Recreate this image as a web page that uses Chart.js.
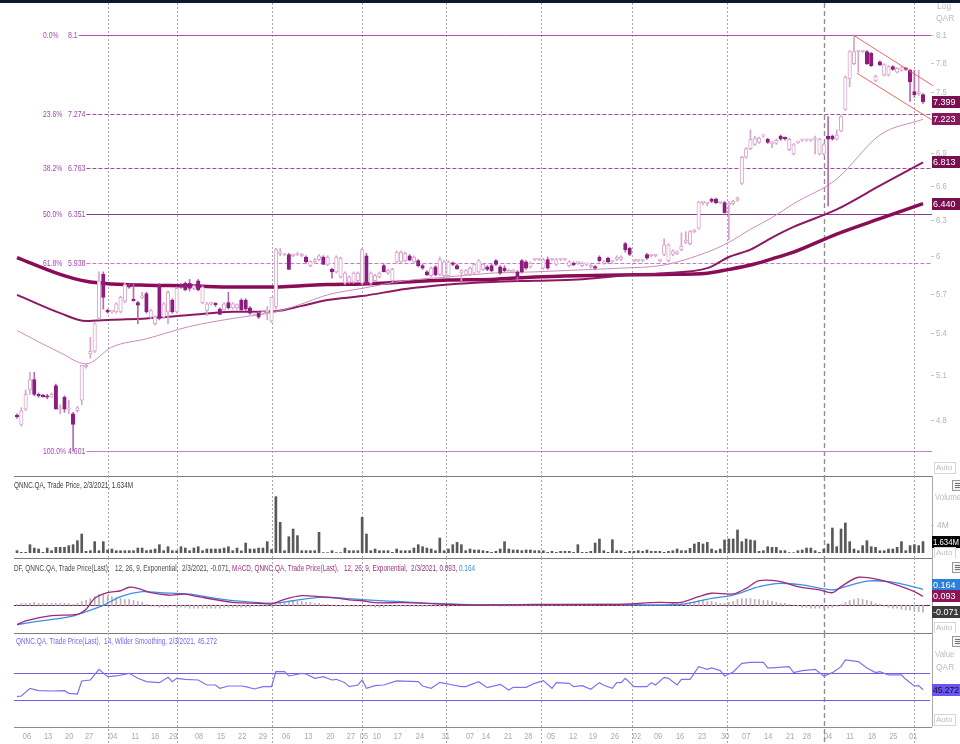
<!DOCTYPE html>
<html><head><meta charset="utf-8">
<script src="https://cdn.jsdelivr.net/npm/chart.js@4.4.1/dist/chart.umd.min.js"></script>
<style>
body{margin:0;background:#fff;width:960px;height:744px;overflow:hidden;position:relative}
canvas{position:absolute;left:0}
.ln{position:absolute;background:#7c7c7c}
</style></head><body>
<div class="ln" style="left:0;top:0;width:960px;height:3px;background:#0b1733"></div>
<div class="ln" style="left:14px;top:476px;width:918px;height:1px"></div>
<div class="ln" style="left:14px;top:558px;width:918px;height:1px"></div>
<div class="ln" style="left:14px;top:633px;width:918px;height:1px"></div>
<div class="ln" style="left:14px;top:727px;width:918px;height:1px;background:#8a8a8a"></div>
<div class="ln" style="left:932px;top:476px;width:1px;height:251px;background:#a8a8a8"></div>
<canvas id="cPrice"></canvas>
<canvas id="cVol"></canvas>
<canvas id="cMacd"></canvas>
<canvas id="cRsi"></canvas>
<script>
// ---------------- DATA ----------------
const tickLabels = ['06','13','20','27','04','11','18','29','08','15','22','29','06','13','20','27','05','10','17','24','31','07','14','21','28','05','12','19','26','02','09','16','23','30','07','14','21','28','04','11','18','25','01'];
const tickIdx = [2.3,7.2,12.1,16.7,22.3,27.4,32,36.2,42.2,47.3,52.2,57,62.4,67.5,72.6,77.4,80.4,83.4,88.3,93.4,99.4,105,108.7,113.8,118.5,123.8,128.9,133.5,138.6,143.7,148.6,153.7,158.8,164.1,169,174.1,179.2,183.1,188,193.1,198.2,203.1,207.7];
const monthLineIdx = [21,37,59,80,99.5,121.5,142.5,164.5,187,208];
const yearStartIdx = 187;

const priceOpen = [4.83,4.77,4.87,5.00,5.07,4.97,4.96,4.96,4.95,5.03,
4.87,4.95,4.87,4.84,4.86,4.93,5.16,5.25,5.27,5.51,
5.85,5.57,5.56,5.56,5.56,5.64,5.76,5.65,5.63,5.67,
5.70,5.52,5.47,5.77,5.52,5.56,5.65,5.56,5.77,5.78,
5.78,5.74,5.80,5.63,5.57,5.62,5.62,5.58,5.575,5.63,
5.59,5.59,5.65,5.65,5.59,5.54,5.55,5.55,5.56,5.49,
5.60,6.02,6.01,6.01,6.00,6.01,6.00,5.99,5.92,5.95,
5.97,5.99,5.93,5.89,5.87,5.83,5.78,5.79,5.79,5.80,
5.78,6.00,5.78,5.80,5.83,5.92,5.86,5.80,5.95,5.95,
5.96,6.00,5.95,5.96,5.92,5.87,5.84,5.91,5.85,5.84,
5.84,5.94,5.92,5.86,5.85,5.85,5.86,5.87,5.89,5.91,
5.92,5.96,5.91,5.90,5.87,5.87,5.87,5.96,5.95,5.91,
5.97,5.97,5.90,5.97,5.97,5.93,5.97,5.97,5.92,5.94,
5.94,5.92,5.93,5.91,5.91,5.99,5.94,5.98,5.95,5.97,
5.97,6.10,6.06,5.96,5.96,5.96,6.01,6.00,6.00,5.96,
6.01,5.96,6.01,6.02,6.05,6.11,6.10,6.20,6.23,6.45,
6.44,6.48,6.48,6.45,6.45,6.43,6.44,6.47,6.62,6.86,
6.94,6.98,7.00,7.06,7.03,6.99,6.99,7.06,7.04,6.93,
6.89,7.00,7.02,7.02,7.02,7.03,6.89,6.89,7.06,7.06,
7.03,7.11,7.32,7.63,7.79,7.92,7.92,7.92,7.90,7.61,
7.81,7.67,7.67,7.76,7.70,7.72,7.74,7.72,7.50,7.48,
7.47];
const priceHigh = [4.84,4.88,5.00,5.12,5.12,4.98,4.97,4.97,4.98,5.04,
4.90,4.96,4.93,4.85,4.89,5.17,5.18,5.37,5.48,5.87,
5.87,5.58,5.57,5.63,5.68,5.78,5.77,5.77,5.64,5.71,
5.71,5.58,5.53,5.78,5.63,5.72,5.66,5.75,5.78,5.79,
5.81,5.77,5.81,5.76,5.63,5.63,5.63,5.59,5.63,5.71,
5.63,5.62,5.66,5.66,5.60,5.55,5.56,5.56,5.60,5.67,
6.06,6.06,6.02,6.02,6.01,6.03,6.02,6.00,5.96,5.98,
6.01,6.00,6.00,5.90,6.00,5.99,5.87,5.84,5.87,5.87,
6.06,6.02,5.87,5.85,5.87,5.93,5.89,5.90,6.04,6.04,
6.03,6.01,6.00,5.97,5.93,5.88,5.91,5.92,5.99,5.96,
5.96,5.95,5.93,5.89,5.89,5.91,5.94,5.97,5.94,5.92,
5.93,5.97,5.92,5.92,5.89,5.89,5.88,5.97,5.96,5.95,
5.98,5.98,5.98,5.99,5.98,5.98,5.98,5.98,5.96,5.95,
5.95,5.95,5.94,5.93,5.92,6.00,5.96,5.99,5.96,6.00,
6.00,6.11,6.07,5.97,5.97,5.97,6.02,6.01,6.01,5.97,
6.14,6.10,6.05,6.04,6.19,6.20,6.21,6.22,6.46,6.46,
6.45,6.49,6.49,6.46,6.46,6.46,6.47,6.50,6.87,6.95,
7.12,7.06,7.05,7.07,7.04,7.01,7.03,7.07,7.05,7.04,
6.99,7.01,7.03,7.03,7.03,7.06,7.04,6.99,7.25,7.07,
7.12,7.26,7.66,7.93,8.10,7.93,7.93,7.93,7.91,7.67,
7.82,7.79,7.77,7.77,7.75,7.76,7.75,7.73,7.72,7.72,
7.48];
const priceLow = [4.81,4.76,4.86,4.97,4.96,4.95,4.95,4.94,4.95,4.87,
4.84,4.85,4.84,4.60,4.85,4.90,5.15,5.22,5.26,5.50,
5.58,5.55,5.55,5.55,5.55,5.63,5.74,5.64,5.47,5.66,
5.55,5.51,5.46,5.50,5.51,5.47,5.55,5.55,5.74,5.72,
5.72,5.73,5.72,5.62,5.53,5.61,5.60,5.54,5.57,5.58,
5.58,5.58,5.57,5.57,5.54,5.53,5.51,5.54,5.50,5.48,
5.58,6.00,6.00,5.89,5.99,6.00,5.99,5.94,5.91,5.94,
5.96,5.93,5.92,5.82,5.86,5.82,5.77,5.78,5.78,5.79,
5.77,5.78,5.77,5.79,5.82,5.87,5.85,5.79,5.94,5.94,
5.95,5.96,5.94,5.91,5.89,5.84,5.83,5.84,5.84,5.83,
5.83,5.92,5.89,5.80,5.84,5.84,5.85,5.86,5.88,5.88,
5.87,5.92,5.85,5.87,5.86,5.86,5.80,5.86,5.89,5.90,
5.96,5.96,5.89,5.89,5.96,5.92,5.96,5.96,5.91,5.92,
5.93,5.91,5.92,5.90,5.89,5.95,5.93,5.94,5.94,5.96,
5.96,6.03,6.00,5.95,5.95,5.95,5.97,5.99,5.99,5.95,
6.00,5.95,6.00,6.01,6.04,6.10,6.09,6.19,6.22,6.43,
6.42,6.45,6.44,6.44,6.36,6.13,6.43,6.46,6.61,6.85,
6.93,6.97,6.99,7.05,6.99,6.95,6.98,7.02,7.02,6.92,
6.88,6.99,7.01,7.01,7.01,6.89,6.88,6.88,6.42,7.02,
7.02,7.10,7.31,7.55,7.78,7.70,7.91,7.78,7.76,7.60,
7.77,7.66,7.66,7.72,7.69,7.71,7.72,7.40,7.44,7.46,
7.38];
const priceClose = [4.82,4.86,4.97,5.07,4.97,4.96,4.955,4.95,4.97,4.87,
4.88,4.87,4.88,4.77,4.88,5.17,5.165,5.27,5.47,5.80,
5.67,5.56,5.565,5.62,5.67,5.77,5.75,5.645,5.61,5.675,
5.56,5.57,5.52,5.51,5.62,5.71,5.56,5.74,5.75,5.73,
5.74,5.76,5.73,5.75,5.62,5.625,5.615,5.54,5.62,5.59,
5.62,5.615,5.575,5.58,5.55,5.545,5.52,5.555,5.565,5.67,
6.05,6.025,6.015,5.89,6.005,6.015,6.005,5.95,5.955,5.97,
6.00,5.93,5.99,5.87,5.99,5.98,5.86,5.83,5.86,5.86,
6.05,5.78,5.86,5.84,5.86,5.87,5.88,5.89,6.03,6.03,
6.02,5.965,5.99,5.92,5.90,5.845,5.90,5.845,5.97,5.95,
5.95,5.93,5.895,5.88,5.88,5.90,5.93,5.96,5.93,5.89,
5.88,5.93,5.86,5.88,5.88,5.885,5.83,5.87,5.90,5.94,
5.975,5.975,5.97,5.90,5.975,5.97,5.975,5.975,5.95,5.925,
5.945,5.94,5.935,5.925,5.90,5.96,5.95,5.95,5.955,5.99,
5.99,6.05,6.01,5.965,5.965,5.965,5.98,6.005,6.005,5.965,
6.09,6.09,6.04,6.03,6.08,6.13,6.20,6.21,6.455,6.455,
6.445,6.46,6.45,6.455,6.36,6.44,6.46,6.49,6.86,6.94,
7.03,7.04,7.04,7.065,7.00,6.995,7.02,7.03,7.035,7.03,
6.98,7.005,7.025,7.025,7.025,7.035,7.03,6.98,7.03,7.03,
7.07,7.25,7.65,7.92,7.92,7.925,7.925,7.79,7.77,7.66,
7.78,7.78,7.76,7.73,7.74,7.75,7.73,7.60,7.47,7.50,
7.399];

const maIdx  = [0,10,16,22,30,40,50,60,66,72,80,90,100,110,120,130,140,150,160,165,170,175,180,190,200,210];
const ma50   = [5.42,5.26,5.18,5.30,5.36,5.45,5.51,5.56,5.62,5.69,5.74,5.80,5.83,5.86,5.87,5.885,5.90,5.925,6.03,6.11,6.22,6.32,6.44,6.66,7.07,7.223];
const ma100  = [5.69,5.55,5.49,5.50,5.51,5.535,5.56,5.565,5.605,5.65,5.68,5.735,5.77,5.79,5.80,5.81,5.84,5.86,5.90,5.99,6.05,6.15,6.24,6.39,6.60,6.813];
const ma200  = [5.985,5.85,5.795,5.775,5.765,5.76,5.75,5.75,5.76,5.77,5.775,5.79,5.805,5.81,5.83,5.84,5.845,5.85,5.86,5.89,5.925,5.975,6.03,6.18,6.31,6.44];

const fibLevels = [8.1,7.274,6.763,6.351,5.938,4.601];
const fibPct = ['0.0%','23.6%','38.2%','50.0%','61.8%','100.0%'];
const channelUpper = [[193.8,8.10],[212.3,7.56]];
const channelLower = [[194.7,7.69],[212.3,7.21]];
const priceTicks = [8.1,7.8,7.5,7.2,6.9,6.6,6.3,6,5.7,5.4,5.1,4.8];

const volume = [0.33,0.1,0.1,1.19,0.71,0.57,0.1,0.71,0.33,0.81,
0.81,0.81,1.05,1.19,1.76,2.71,0.24,0.33,1.62,0.33,
1.62,0.43,0.57,0.33,0.33,0.33,0.33,0.33,0.71,0.71,
0.33,0.43,0.57,1.19,0.33,0.9,0.33,0.33,0.9,0.71,
0.33,0.71,0.9,0.33,0.57,0.57,0.57,0.57,0.71,0.9,
0.33,0.71,0.3,1.43,0.57,0.57,0.71,0.71,1.62,0.5,
8.05,4.38,0.33,2.33,3.43,2.48,0.33,0.33,0.33,0.33,
2.95,0.05,0.05,0.33,0.05,0.05,0.71,0.33,0.33,0.33,
5.1,2.71,0.33,0.57,0.33,0.33,0.33,0.1,0.57,0.33,
0.33,0.33,0.71,1.19,0.9,0.71,0.57,0.33,2.14,0.33,
0.57,1.19,1.52,1.19,0.33,0.57,0.43,0.43,0.33,0.24,
0.1,0.24,0.57,1.62,0.57,0.43,0.43,0.33,0.43,0.43,
0.33,0.33,0.33,0.1,0.24,0.1,0.24,0.24,0.24,0.1,
1.19,0.1,0.1,0.24,1.43,2.0,0.33,0.1,1.9,0.33,
0.33,0.1,0.24,0.24,0.33,0.24,0.43,0.24,0.24,0.24,
0.1,0.24,0.33,0.57,0.33,0.33,0.67,1.29,1.52,1.29,
1.52,0.57,0.33,0.57,1.86,2.0,2.0,3.29,1.62,2.0,
1.86,1.76,0.24,0.33,0.9,0.81,0.81,0.33,0.33,0.05,
0.05,0.33,0.43,0.71,0.71,0.33,0.1,0.57,1.29,3.57,
0.9,3.43,4.29,1.62,0.57,0.33,1.05,1.76,0.9,0.81,
0.33,0.33,0.57,0.57,0.81,1.62,0.33,1.05,1.19,1.05,
1.634];
const volumeTicks = [4];

const macdX = [0,2,8,14,16,18,21,24,26,28,31,35,39,42,50,56,59,62,66,70,73,77,80,83,89,95,100,107,120,138,149,154,158,161,166,169,172,177,181,186,189,191,195,200,205,208,210];
const macdY = [-0.20,-0.16,-0.107,-0.093,-0.041,0.072,0.13,0.15,0.186,0.175,0.13,0.106,0.116,0.089,0.031,0.021,0.013,0.062,0.099,0.089,0.082,0.055,0.047,0.027,0.027,0.02,0.01,0.003,0.01,0.01,0.03,0.03,0.089,0.124,0.117,0.175,0.254,0.244,0.192,0.158,0.13,0.192,0.289,0.261,0.192,0.14,0.093];
const signalX = [0,4,12,16,20,24,29,33,40,46,53,59,64,70,76,81,89,96,107,138,154,161,166,172,177,182,189,192,197,202,206,210];
const signalY = [-0.20,-0.17,-0.12,-0.066,0.0,0.09,0.14,0.13,0.116,0.072,0.037,0.021,0.047,0.082,0.072,0.055,0.037,0.02,0.005,0.01,0.01,0.072,0.106,0.192,0.227,0.21,0.158,0.192,0.25,0.244,0.21,0.164];
const hist = [0.01,0.02,0.02,0.02,0.03,0.02,0.02,0.02,0.02,0.02,
0.02,0.02,0.02,0.01,0.02,0.04,0.05,0.07,0.09,0.11,
0.11,0.10,0.09,0.08,0.07,0.06,0.06,0.05,0.04,0.03,
0.01,-0.01,-0.01,-0.02,-0.02,-0.02,-0.01,-0.02,-0.02,-0.02,
-0.03,-0.03,-0.03,-0.03,-0.03,-0.03,-0.03,-0.03,-0.02,-0.02,
-0.02,-0.02,-0.02,-0.02,-0.02,-0.01,-0.01,-0.01,-0.01,-0.01,
0.01,0.02,0.03,0.03,0.04,0.04,0.04,0.03,0.03,0.02,
0.02,0.01,0.01,0,-0.01,-0.01,-0.01,-0.01,-0.01,-0.01,
0,-0.01,-0.01,-0.02,-0.02,-0.02,-0.01,-0.01,-0.01,-0.01,
-0.01,-0.01,-0.01,-0.01,-0.01,-0.01,-0.01,-0.01,-0.01,-0.01,
-0.01,0,0,0,0,0,0,0,0,0,
-0.005,-0.005,-0.01,-0.01,-0.01,-0.01,-0.01,-0.01,0,0,
0,0,0,0,0,0,0,0,0,0,
0,0,0,0,0,0,0,0,0,0.005,
0,0,0,0,0,0,0,0,0,0.01,
0.01,0.01,0.02,0.02,0.02,0.02,0.03,0.04,0.05,0.05,
0.04,0.04,0.03,0.02,0.02,0.03,0.04,0.06,0.07,0.07,
0.07,0.06,0.06,0.05,0.05,0.04,0.03,0.02,0.02,0.01,
0,-0.01,-0.02,-0.02,-0.03,-0.03,-0.03,-0.03,-0.03,-0.02,
-0.01,0.01,0.03,0.05,0.06,0.07,0.06,0.05,0.04,0.02,
0.01,-0.01,-0.02,-0.03,-0.03,-0.04,-0.05,-0.05,-0.06,-0.065,
-0.071];

const rsiX = [0,1,3,5,8,11,12,14,15,17,19,21,23,26,28,30,33,35,36,37,39,42,44,46,47,49,52,53,55,57,59,60,62,63,66,67,69,71,73,74,76,77,79,80,81,83,85,88,93,94,96,98,101,103,104,107,109,112,114,115,118,120,122,124,125,128,129,131,133,135,136,138,139,140,141,143,146,147,148,150,151,153,154,156,158,160,161,163,164,165,166,168,170,173,174,175,179,180,182,185,187,189,191,192,195,197,199,200,202,205,206,208,209,210];
const rsiY = [35,36,47.5,44,43.5,44,40,39,58.5,60,76,65,66,70,62.5,57.5,56,64,57.5,62.5,61,60,52.5,52.5,47.5,51,51,50,46.5,50,50,72.5,72.5,66,70,69,62.5,65,60,61,56,50,52.5,60,47.5,51.5,52.5,58.5,57.5,51,47.5,56.5,52.5,50,50,57.5,48.5,53.5,45,49,49,55,59,47.5,56,55,50,51.5,46,56,52,47.5,56,56,62.5,50,50,56,52.5,64,62.5,52.5,61,61,80,76,78,74,66,69,72,85,86.5,86.5,78,78,80,71,74,76,66,71,80,90,87.5,78,71,72.5,67.5,67.5,61,51,51.5,45.272];
const rsiLevels = [70,30];

// ---------------- STYLE / HELPERS ----------------
const FONT = '"Liberation Sans", Arial, sans-serif';
Chart.defaults.font.family = FONT;
const X_MIN = -0.7, X_MAX = 211.62;
const fibColors = ['#b44cbc','#a8489e','#a04a98','#8c3592','#c27cc6','#c47ad0'];
const fibDashed = [false,true,true,false,true,false];
const AXIS_TXT = '#b4b4b4';

function txt(ctx, s, x, y, o) {
  o = o || {};
  const size = o.size || 8, sx = o.sx || 1;
  ctx.save();
  ctx.font = (o.bold ? 'bold ' : '') + size + 'px ' + FONT;
  ctx.fillStyle = o.color || '#000';
  ctx.textBaseline = 'middle';
  ctx.textAlign = 'left';
  const w = ctx.measureText(s).width * sx;
  const x0 = o.align === 'center' ? x - w / 2 : (o.align === 'right' ? x - w : x);
  ctx.translate(x0, y); ctx.scale(sx, 1); ctx.fillText(s, 0, 0);
  ctx.restore();
  return w;
}
function fitParts(ctx, parts, x, y, width, size) {
  ctx.save(); ctx.font = size + 'px ' + FONT;
  const total = parts.reduce((a, p) => a + ctx.measureText(p[0]).width, 0);
  ctx.restore();
  const sx = width / total;
  let cx = x;
  parts.forEach(p => { cx += txt(ctx, p[0], cx, y, {size: size, color: p[1], sx: sx}); });
}
function hline(ctx, x1, x2, y, color, w, dash) {
  ctx.save(); ctx.strokeStyle = color; ctx.lineWidth = w || 1; ctx.setLineDash(dash || []);
  ctx.beginPath(); ctx.moveTo(x1, y); ctx.lineTo(x2, y); ctx.stroke(); ctx.restore();
}
function monthLines(chart, y1, y2) {
  const ctx = chart.ctx, xs = chart.scales.x;
  monthLineIdx.forEach(m => {
    const px = Math.round(xs.getPixelForValue(m)) + 0.5;
    const yr = m === yearStartIdx;
    ctx.save(); ctx.strokeStyle = yr ? '#8f8f8f' : '#a6a6a6'; ctx.lineWidth = yr ? 1.4 : 1;
    ctx.setLineDash(yr ? [5, 3] : [2, 2]);
    ctx.beginPath(); ctx.moveTo(px, y1); ctx.lineTo(px, y2); ctx.stroke(); ctx.restore();
  });
}
function tag(ctx, s, cy, bg, fg) {
  cy = Math.round(cy);
  ctx.save(); ctx.fillStyle = bg; ctx.fillRect(932, cy - 6, 28, 12);
  ctx.font = '9px ' + FONT; const w = ctx.measureText(s).width; ctx.restore();
  txt(ctx, s, 933, cy + 0.5, {size: 9, color: fg, sx: Math.min(1, 26 / w)});
}
function autoBox(ctx, cy) {
  ctx.save(); ctx.strokeStyle = '#d6d6d6'; ctx.strokeRect(934.5, Math.round(cy) - 5.5, 21, 11); ctx.restore();
  txt(ctx, 'Auto', 936, cy, {size: 8, color: '#bdbdbd'});
}
function iconBox(ctx, y) {
  ctx.save(); ctx.fillStyle = '#f2f2f2'; ctx.strokeStyle = '#9a9a9a';
  ctx.fillRect(952.5, y + 0.5, 9, 10); ctx.strokeRect(952.5, y + 0.5, 9, 10);
  ctx.fillStyle = '#707070'; ctx.fillRect(955, y + 3, 5, 1); ctx.fillRect(955, y + 5, 5, 1); ctx.fillRect(955, y + 7, 5, 1);
  ctx.restore();
}
function spreadTags(list, gap) {
  list.sort((a, b) => a.y - b.y);
  for (let i = list.length - 2; i >= 0; i--) if (list[i].y > list[i + 1].y - gap) list[i].y = list[i + 1].y - gap;
  return list;
}
function pts(xs, ys) { return xs.map((x, k) => ({x: x, y: ys[k]})); }

function makeChart(id, top, height, padTop, padBottom, datasets, yOpts, plugin) {
  const cv = document.getElementById(id);
  cv.width = 960; cv.height = height; cv.style.top = top + 'px';
  return new Chart(cv, {
    type: 'bar',
    data: {datasets: datasets},
    options: {
      responsive: false, animation: false, events: [],
      layout: {padding: {left: 14, right: 30, top: padTop, bottom: padBottom}},
      plugins: {legend: {display: false}, tooltip: {enabled: false}},
      scales: {
        x: {type: 'linear', min: X_MIN, max: X_MAX, display: false, bounds: 'data', offset: false, grid: {offset: false}},
        y: Object.assign({display: false, bounds: 'data'}, yOpts)
      }
    },
    plugins: [plugin]
  });
}

const N = priceClose.length;
const idx = priceClose.map((_, i) => i);
const isUp = i => priceClose[i] >= priceOpen[i];
const last = N - 1;

// ---------------- PRICE PANEL ----------------
const pricePlugin = {
  id: 'pricePanel',
  beforeDatasetsDraw(chart) {
    const ctx = chart.ctx, y = chart.scales.y;
    monthLines(chart, chart.chartArea.top, chart.height);
    fibLevels.forEach((lv, i) => {
      const py = Math.round(y.getPixelForValue(lv)) + 0.5;
      txt(ctx, fibPct[i], 43, py, {size: 8.5, color: '#a447b2', sx: 0.8});
      const w = txt(ctx, String(lv), 68, py, {size: 8.5, color: '#a447b2', sx: 0.82});
      hline(ctx, 68 + w + 1, 932, py, fibColors[i], 1, fibDashed[i] ? [4, 2] : []);
    });
  },
  afterDraw(chart) {
    const ctx = chart.ctx, y = chart.scales.y;
    txt(ctx, 'Log', 937, 7, {size: 8.5, color: '#bcbcbc'});
    txt(ctx, 'QAR', 936, 19, {size: 8.5, color: '#bcbcbc'});
    priceTicks.forEach(v => {
      const py = Math.round(y.getPixelForValue(v)) + 0.5;
      hline(ctx, 931, 934, py, '#c4c4c4');
      txt(ctx, String(v), 936, py, {size: 8.5, color: AXIS_TXT, sx: 0.9});
    });
    tag(ctx, priceClose[last].toFixed(3), y.getPixelForValue(priceClose[last]), '#7a0f50', '#fff');
    tag(ctx, ma50[ma50.length - 1].toFixed(3), y.getPixelForValue(ma50[ma50.length - 1]), '#86195c', '#fff');
    tag(ctx, ma100[ma100.length - 1].toFixed(3), y.getPixelForValue(ma100[ma100.length - 1]), '#7a0f50', '#fff');
    tag(ctx, ma200[ma200.length - 1].toFixed(3), y.getPixelForValue(ma200[ma200.length - 1]), '#7a0f50', '#fff');
    autoBox(ctx, 468);
  }
};
makeChart('cPrice', 0, 476, 3, 4, [
  {type: 'line', data: pts(maIdx, ma200), borderColor: '#8a0c56', borderWidth: 3.5, pointRadius: 0, cubicInterpolationMode: 'monotone', order: 10},
  {type: 'line', data: pts(maIdx, ma100), borderColor: '#8e1862', borderWidth: 2, pointRadius: 0, cubicInterpolationMode: 'monotone', order: 9},
  {type: 'line', data: pts(maIdx, ma50), borderColor: '#c98bbd', borderWidth: 1, pointRadius: 0, cubicInterpolationMode: 'monotone', order: 8},
  {type: 'bar', data: idx.map(i => ({x: i, y: [priceLow[i], priceHigh[i]]})),
   backgroundColor: c => isUp(c.dataIndex) ? '#d8a5ce' : '#b66aa8', barThickness: 1, grouped: false, order: 3},
  {type: 'bar', data: idx.map(i => ({x: i, y: [Math.min(priceOpen[i], priceClose[i]), Math.max(priceOpen[i], priceClose[i])]})),
   backgroundColor: c => isUp(c.dataIndex) ? '#ffffff' : '#8c1c7e',
   borderColor: c => isUp(c.dataIndex) ? '#d8a5ce' : '#8c1c7e',
   borderWidth: 1, borderSkipped: false, barThickness: 3.5, minBarLength: 1.5, grouped: false, order: 2},
  {type: 'line', data: channelUpper.map(p => ({x: p[0], y: p[1]})), borderColor: '#f06464', borderWidth: 1, pointRadius: 0, clip: false, order: 1},
  {type: 'line', data: channelLower.map(p => ({x: p[0], y: p[1]})), borderColor: '#f06464', borderWidth: 1, pointRadius: 0, clip: false, order: 1}
], {type: 'logarithmic', min: 4.472, max: 8.46}, pricePlugin);

// ---------------- VOLUME PANEL ----------------
const volPlugin = {
  id: 'volPanel',
  beforeDatasetsDraw(chart) { monthLines(chart, 0, chart.height); },
  afterDraw(chart) {
    const ctx = chart.ctx, y = chart.scales.y;
    fitParts(ctx, [['QNNC.QA, Trade Price, 2/3/2021, ' + volume[last].toFixed(3) + 'M', '#3c3c3c']], 14, 10, 119, 9);
    txt(ctx, 'Volume', 935, 22, {size: 8.5, color: '#bcbcbc', sx: 0.92});
    volumeTicks.forEach(v => {
      const py = Math.round(y.getPixelForValue(v)) + 0.5;
      hline(ctx, 931, 934, py, '#c4c4c4');
      txt(ctx, v + 'M', 937, py, {size: 8.5, color: AXIS_TXT});
    });
    tag(ctx, volume[last].toFixed(3) + 'M', y.getPixelForValue(volume[last]), '#000', '#fff');
    autoBox(ctx, 77);
    iconBox(ctx, 4);
  }
};
makeChart('cVol', 476, 82, 1, 5, [
  {type: 'bar', data: idx.map(i => ({x: i, y: volume[i]})), backgroundColor: '#595959', barThickness: 2}
], {type: 'linear', min: 0, max: 10.857}, volPlugin);

// ---------------- MACD PANEL ----------------
const macdPlugin = {
  id: 'macdPanel',
  beforeDatasetsDraw(chart) {
    monthLines(chart, 0, chart.height);
    const py = Math.round(chart.scales.y.getPixelForValue(0)) + 0.5;
    hline(chart.ctx, 14, 930, py, '#7b1c5a', 1.2);
  },
  afterDraw(chart) {
    const ctx = chart.ctx, y = chart.scales.y;
    const tail = '  12, 26, 9, Exponential,  2/3/2021, ';
    fitParts(ctx, [
      ['DF, QNNC.QA, Trade Price(Last), ' + tail + hist[last].toFixed(3) + ', ', '#4a4a4a'],
      ['MACD, QNNC.QA, Trade Price(Last), ' + tail + macdY[macdY.length - 1].toFixed(3) + ', ', '#a0307a'],
      [signalY[signalY.length - 1].toFixed(3), '#3b8fe8']
    ], 14, 11, 461, 9);
    const tags = spreadTags([
      {v: signalY[signalY.length - 1], y: y.getPixelForValue(signalY[signalY.length - 1]), bg: '#2c7fda', fg: '#fff'},
      {v: macdY[macdY.length - 1], y: y.getPixelForValue(macdY[macdY.length - 1]), bg: '#8b1555', fg: '#fff'},
      {v: hist[last], y: y.getPixelForValue(hist[last]), bg: '#3c3c3c', fg: '#fff'}
    ], 11);
    tags.forEach(t => tag(ctx, t.v.toFixed(3), t.y, t.bg, t.fg));
    autoBox(ctx, 70);
    iconBox(ctx, 4);
  }
};
makeChart('cMacd', 558, 75, 1, 1, [
  {type: 'line', data: pts(signalX, signalY), borderColor: '#3d8fe6', borderWidth: 1.3, pointRadius: 0, tension: 0.3, order: 2},
  {type: 'line', data: pts(macdX, macdY), borderColor: '#a02a78', borderWidth: 1.3, pointRadius: 0, tension: 0.3, order: 1},
  {type: 'bar', data: idx.map(i => ({x: i, y: hist[i]})), backgroundColor: '#b4b4b4', barThickness: 1, order: 3}
], {type: 'linear', min: -0.2753, max: 0.4773}, macdPlugin);

// ---------------- RSI PANEL + X AXIS ----------------
const rsiPlugin = {
  id: 'rsiPanel',
  beforeDatasetsDraw(chart) {
    monthLines(chart, 0, chart.height);
    rsiLevels.forEach(l => {
      const py = Math.round(chart.scales.y.getPixelForValue(l)) + 0.5;
      hline(chart.ctx, 14, 930, py, '#6d5fe6', 1.2);
    });
  },
  afterDraw(chart) {
    const ctx = chart.ctx, y = chart.scales.y, xs = chart.scales.x;
    fitParts(ctx, [['QNNC.QA, Trade Price(Last),  14, Wilder Smoothing, 2/3/2021, ' + rsiY[rsiY.length - 1].toFixed(3), '#7766ee']], 16, 9, 201, 9);
    tickIdx.forEach((t, i) => {
      txt(ctx, tickLabels[i], xs.getPixelForValue(t), 104, {size: 9, color: '#a8a8a8', align: 'center', sx: 0.82});
    });
    txt(ctx, 'Value', 935, 22, {size: 8.5, color: '#bcbcbc', sx: 0.92});
    txt(ctx, 'QAR', 936, 35, {size: 8.5, color: '#bcbcbc'});
    tag(ctx, rsiY[rsiY.length - 1].toFixed(3), y.getPixelForValue(rsiY[rsiY.length - 1]), '#6b55f5', '#111');
    autoBox(ctx, 87);
    iconBox(ctx, 3);
  }
};
makeChart('cRsi', 633, 111, 1, 17, [
  {type: 'line', data: pts(rsiX, rsiY), borderColor: '#7f70f2', borderWidth: 1.2, pointRadius: 0, tension: 0}
], {type: 'linear', min: -10.45, max: 128.88}, rsiPlugin);
</script>
</body></html>
